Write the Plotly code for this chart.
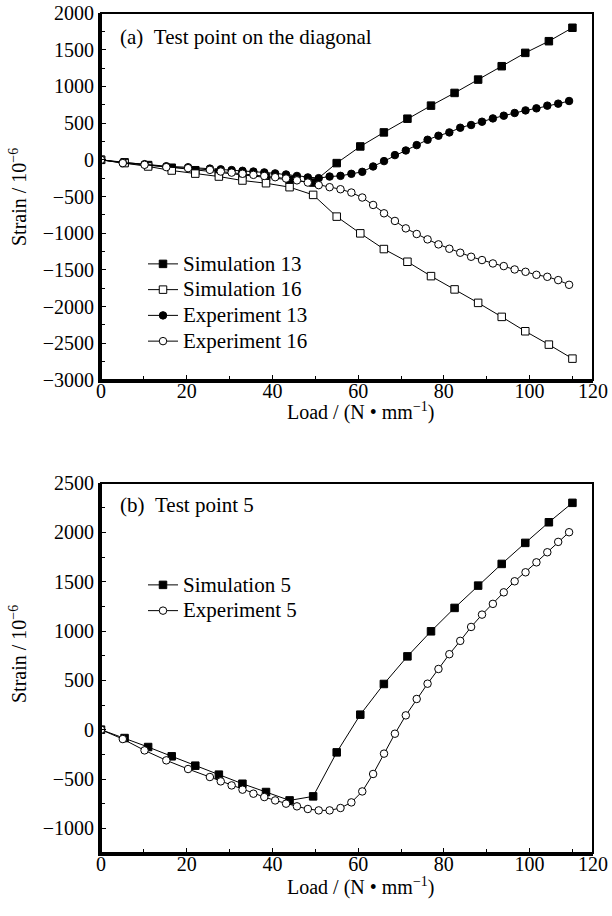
import plotly.graph_objects as go

# ---------------- data ----------------
sim_load = [0, 5.5, 11, 16.5, 22, 27.5, 33, 38.5, 44, 49.5, 55, 60.5, 66, 71.5,
            77, 82.5, 88, 93.5, 99, 104.5, 110]
exp_load = [0, 5.08, 10.16, 15.24, 20.32, 25.4, 27.94, 30.48, 33.02, 35.56, 38.1,
            40.64, 43.18, 45.72, 48.26, 50.8, 53.34, 55.88, 58.42, 60.96, 63.5,
            66.04, 68.58, 71.12, 73.66, 76.2, 78.74, 81.28, 83.82, 86.36, 88.9,
            91.44, 93.98, 96.52, 99.06, 101.6, 104.14, 106.68, 109.22]

sim13 = [0, -35, -72, -108, -142, -175, -208, -240, -272, -310, -45, 182, 373, 560,
         738, 911, 1093, 1275, 1457, 1616, 1799]
sim16 = [0, -45, -91, -146, -188, -228, -282, -319, -373, -478, -774, -1002, -1216,
         -1389, -1585, -1766, -1949, -2140, -2336, -2518, -2709]
exp13 = [0, -38, -60, -88, -102, -120, -130, -140, -150, -160, -172, -185, -200, -220,
         -240, -250, -228, -219, -191, -164, -91, -18, 64, 127, 200, 273, 328, 373,
         437, 474, 519, 564, 601, 638, 673, 701, 738, 765, 801]
exp16 = [0, -45, -68, -100, -114, -137, -160, -175, -190, -205, -220, -237, -255, -280,
         -310, -345, -373, -401, -446, -514, -615, -729, -833, -934, -1011, -1084,
         -1152, -1212, -1266, -1321, -1366, -1412, -1448, -1494, -1526, -1567, -1594,
         -1639, -1703]

sim5 = [0, -85, -176, -270, -365, -456, -548, -632, -717, -676, -230, 152, 463, 743,
        997, 1234, 1460, 1680, 1893, 2102, 2299]
exp5 = [0, -95, -210, -311, -399, -480, -524, -565, -608, -649, -683, -717, -750, -777,
        -804, -818, -818, -794, -737, -626, -449, -243, -41, 145, 311, 466, 615, 765,
        900, 1041, 1166, 1275, 1392, 1504, 1595, 1696, 1798, 1903, 2001]

x_tickvals = [0, 20, 40, 60, 80, 100, 114.8]
x_ticktext = ["0", "20", "40", "60", "80", "100", "120"]
top_yticks = [2000, 1500, 1000, 500, 0, -500, -1000, -1500, -2000, -2500, -3000]
bot_yticks = [2500, 2000, 1500, 1000, 500, 0, -500, -1000]

FONT = "Liberation Serif"
W, H = 612, 916

fig = go.Figure()

def add(x, y, name, symbol, fill, xa, ya, legend):
    fig.add_trace(go.Scatter(
        x=x, y=y, name="<span style='font-size:21px'>" + name + "</span>",
        mode="lines+markers",
        line=dict(color="black", width=1),
        marker=dict(symbol=symbol, size=7.5, color=fill,
                    line=dict(color="black", width=1)),
        xaxis=xa, yaxis=ya, legend=legend))

add(sim_load, sim13, "Simulation 13", "square", "black", "x", "y", "legend")
add(sim_load, sim16, "Simulation 16", "square", "white", "x", "y", "legend")
add(exp_load, exp13, "Experiment 13", "circle", "black", "x", "y", "legend")
add(exp_load, exp16, "Experiment 16", "circle", "white", "x", "y", "legend")
add(sim_load, sim5, "Simulation 5", "square", "black", "x2", "y2", "legend2")
add(exp_load, exp5, "Experiment 5", "circle", "white", "x2", "y2", "legend2")

xdom = [101 / W, 593 / W]
ydom_top = [1 - 380 / H, 1 - 13 / H]
ydom_bot = [1 - 853 / H, 1 - 483 / H]

def xaxis(anchor):
    return dict(domain=xdom, anchor=anchor, range=[0, 114.8], automargin=False,
                tickmode="array", tickvals=x_tickvals, ticktext=x_ticktext,
                ticks="inside", ticklen=5, tickwidth=1, tickcolor="black",
                ticklabelstandoff=-9,
                minor=dict(tickmode="array", tickvals=[10, 30, 50, 70, 90, 110],
                           ticks="inside", ticklen=4, tickcolor="black"),
                showline=True, linewidth=3, linecolor="black",
                showgrid=False, zeroline=False,
                tickfont=dict(family=FONT, size=20, color="black"))

def yaxis(anchor, dom, rng, tickvals, minors):
    return dict(domain=dom, anchor=anchor, range=rng, automargin=False,
                tickmode="array", tickvals=tickvals,
                ticks="inside", ticklen=5, tickwidth=1, tickcolor="black",
                minor=dict(tickmode="array", tickvals=minors,
                           ticks="inside", ticklen=4, tickcolor="black"),
                showline=True, linewidth=3, linecolor="black",
                showgrid=False, zeroline=False,
                tickfont=dict(family=FONT, size=20, color="black"))

top_minor = [1750, 1250, 750, 250, -250, -750, -1250, -1750, -2250, -2750]
bot_minor = [2250, 1750, 1250, 750, 250, -250, -750, -1250]

legend_font = dict(family=FONT, size=17.5, color="black")

fig.update_layout(
    width=W, height=H,
    margin=dict(l=0, r=0, t=0, b=0, autoexpand=False),
    paper_bgcolor="white", plot_bgcolor="white",
    font=dict(family=FONT, color="black"),
    xaxis=xaxis("y"),
    yaxis=yaxis("x", ydom_top, [-3000, 2000], top_yticks, top_minor),
    xaxis2=xaxis("y2"),
    yaxis2=yaxis("x2", ydom_bot, [-1250, 2500], bot_yticks, bot_minor),
    legend=dict(x=143 / W, y=1 - 246 / H, xanchor="left", yanchor="top",
                bgcolor="rgba(0,0,0,0)", font=legend_font, tracegroupgap=0,
                itemwidth=30),
    legend2=dict(x=143 / W, y=1 - 567 / H, xanchor="left", yanchor="top",
                 bgcolor="rgba(0,0,0,0)", font=legend_font, tracegroupgap=0,
                 itemwidth=30),
    shapes=[
        dict(type="rect", xref="x domain", yref="y domain", x0=0, x1=1, y0=0, y1=1,
             line=dict(color="black", width=2), layer="above"),
        dict(type="rect", xref="x2 domain", yref="y2 domain", x0=0, x1=1, y0=0, y1=1,
             line=dict(color="black", width=2), layer="above"),
    ],
    annotations=[
        dict(text="(a)\u00a0\u00a0Test point on the diagonal", xref="paper", yref="paper",
             x=118 / W, y=1 - 37 / H, xanchor="left", yanchor="middle",
             showarrow=False, font=dict(family=FONT, size=21, color="black")),
        dict(text="(b)\u00a0\u00a0Test point 5", xref="paper", yref="paper",
             x=118 / W, y=1 - 505 / H, xanchor="left", yanchor="middle",
             showarrow=False, font=dict(family=FONT, size=21, color="black")),
        dict(text="Load / (N\u00a0\u2022\u00a0mm<sup>\u22121</sup>)", xref="paper", yref="paper",
             x=360 / W, y=1 - 411 / H, xanchor="center", yanchor="middle",
             showarrow=False, font=dict(family=FONT, size=20, color="black")),
        dict(text="Load / (N\u00a0\u2022\u00a0mm<sup>\u22121</sup>)", xref="paper", yref="paper",
             x=360 / W, y=1 - 886 / H, xanchor="center", yanchor="middle",
             showarrow=False, font=dict(family=FONT, size=20, color="black")),
        dict(text="Strain / 10<sup>\u22126</sup>", xref="paper", yref="paper",
             x=18 / W, y=1 - 197 / H, xanchor="center", yanchor="middle", textangle=-90,
             showarrow=False, font=dict(family=FONT, size=20, color="black")),
        dict(text="Strain / 10<sup>\u22126</sup>", xref="paper", yref="paper",
             x=18 / W, y=1 - 654 / H, xanchor="center", yanchor="middle", textangle=-90,
             showarrow=False, font=dict(family=FONT, size=20, color="black")),
    ],
)

fig.write_html("out.html", config={"displayModeBar": False},
               post_script="document.body.style.margin='0px';")
